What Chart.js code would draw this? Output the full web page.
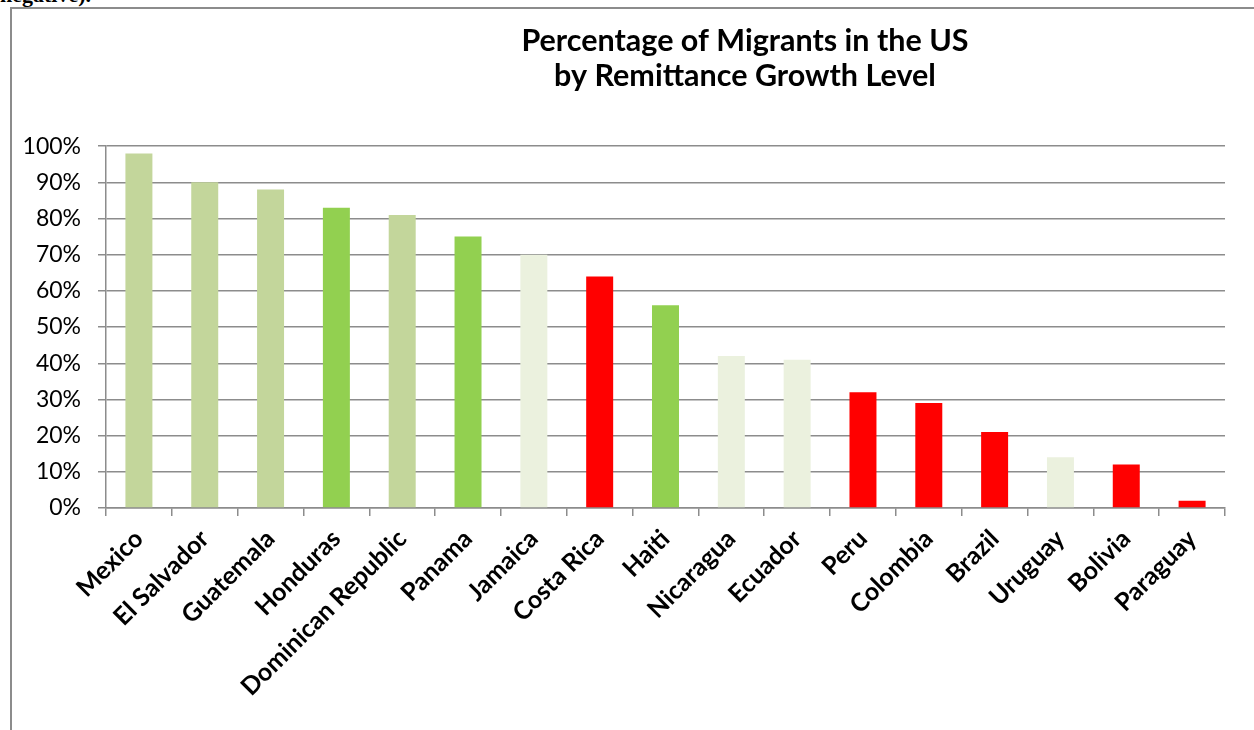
<!DOCTYPE html>
<html>
<head>
<meta charset="utf-8">
<script src="https://cdn.jsdelivr.net/npm/chart.js@4.4.1/dist/chart.umd.min.js"></script>
<style>
  body { margin: 0; background: #fff; overflow: hidden; width: 1254px; height: 730px; position: relative; }
  #cut { position: absolute; left: 0; top: -18px; font: bold 22px 'Liberation Serif', serif; color: #000; }
  #box { position: absolute; left: 10px; top: 7px; width: 1470px; height: 760px; border: 2px solid #8c8c8c; }
  canvas { display: block; }
</style>
</head>
<body>
<div id="cut">negative).</div>
<div id="box"><canvas id="chart" width="1466" height="720"></canvas></div>
<script>
Chart.defaults.color = '#000';
Chart.defaults.font.family = 'Lato, Calibri, sans-serif';

const ctx = document.getElementById('chart');

// countries, sorted by share of migrants living in the US
const countries = ['Mexico', 'El Salvador', 'Guatemala', 'Honduras', 'Dominican Republic', 'Panama',
  'Jamaica', 'Costa Rica', 'Haiti', 'Nicaragua', 'Ecuador', 'Peru', 'Colombia', 'Brazil',
  'Uruguay', 'Bolivia', 'Paraguay'];
const shareInUS = [98, 90, 88, 83, 81, 75, 70, 64, 56, 42, 41, 32, 29, 21, 14, 12, 2];
// remittance growth level of each country (picks the bar colour)
const growthLevel = ['mid', 'mid', 'mid', 'high', 'mid', 'high', 'low', 'neg', 'high', 'low',
  'low', 'neg', 'neg', 'neg', 'low', 'neg', 'neg'];
const yTicks = [0, 10, 20, 30, 40, 50, 60, 70, 80, 90, 100];

const levelColours = { high: '#92D050', mid: '#C3D69B', low: '#EBF1DE', neg: '#FF0000' };
const gridGrey = '#8c8c8c';

new Chart(ctx, {
    type: 'bar',
    data: {
        labels: countries,
        datasets: [{
            data: shareInUS,
            backgroundColor: growthLevel.map(l => levelColours[l]),
            barPercentage: 0.41,
            categoryPercentage: 1
        }]
    },
    options: {
        responsive: false,
        animation: false,
        layout: { padding: 0 },
        plugins: {
            legend: { display: false },
            tooltip: { enabled: false },
            title: {
                display: true,
                text: ['Percentage of Migrants in the US', 'by Remittance Growth Level'],
                font: { size: 30.5, weight: 'bold', lineHeight: 1.15 },
                padding: { top: 15, bottom: 52 }
            }
        },
        scales: {
            x: {
                border: { color: gridGrey, width: 1.5 },
                grid: { drawOnChartArea: false, tickLength: 8, color: gridGrey, lineWidth: 1.5 },
                ticks: {
                    autoSkip: false, maxRotation: 45, minRotation: 45, padding: 8,
                    font: { size: 25, weight: 'bold' }
                },
                // keep the plot where the original has it (the legend space on the right is empty)
                afterFit: scale => {
                    scale.height = 221;
                    scale.paddingLeft = 0;
                    scale.paddingRight = 253;
                }
            },
            y: {
                min: 0, max: 100,
                afterBuildTicks: axis => { axis.ticks = yTicks.map(v => ({ value: v })); },
                border: { color: gridGrey, width: 1.5 },
                grid: { tickLength: 8, color: gridGrey, lineWidth: 1.5 },
                ticks: {
                    padding: 17,
                    font: { size: 23 },
                    callback: v => v + '%'
                },
                afterFit: scale => {
                    scale.width = 94;
                    scale.paddingTop = 0;
                    scale.paddingBottom = 0;
                }
            }
        }
    }
});
</script>
</body>
</html>
